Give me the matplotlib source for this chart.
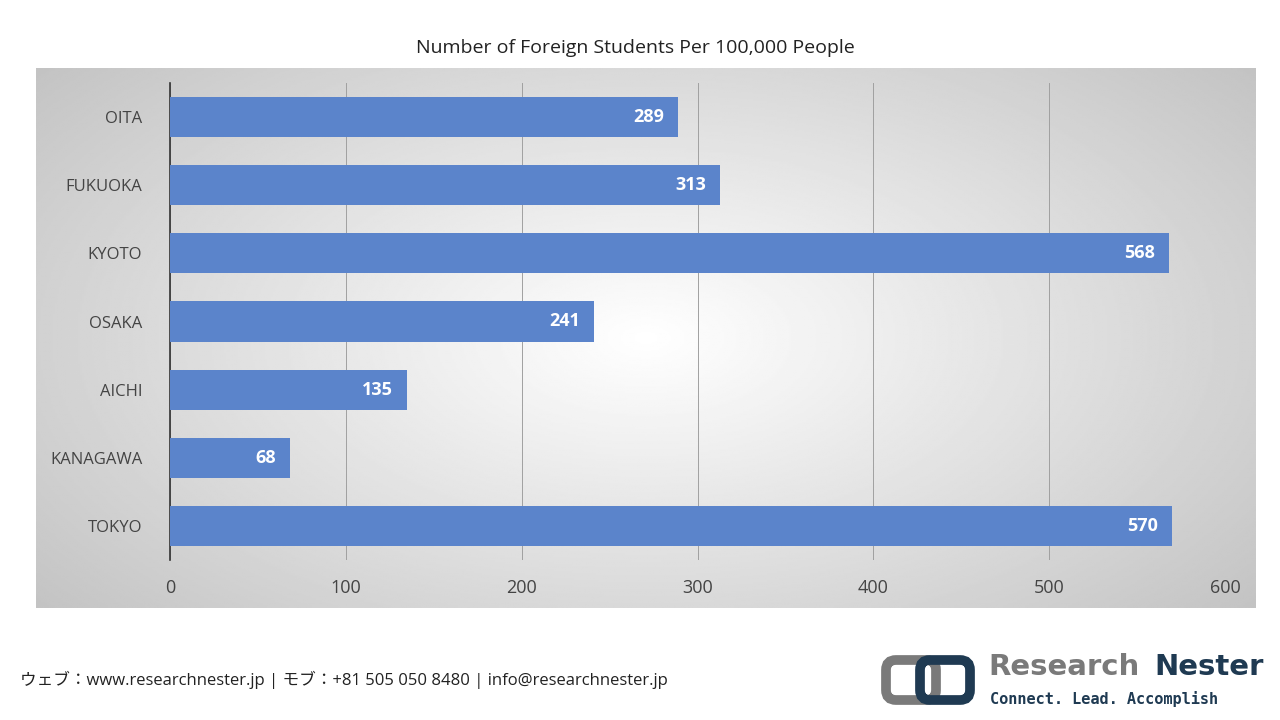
import numpy as np
import matplotlib.pyplot as plt
from matplotlib.patches import FancyBboxPatch

plt.rcParams['font.family'] = ['Open Sans', 'Noto Sans CJK JP', 'DejaVu Sans']

categories = ["TOKYO", "KANAGAWA", "AICHI", "OSAKA", "KYOTO", "FUKUOKA", "OITA"]
values = [570, 68, 135, 241, 568, 313, 289]
xticks = [0, 100, 200, 300, 400, 500, 600]

W, H = 1280, 720
fig = plt.figure(figsize=(12.8, 7.2), dpi=100)

bg = fig.add_axes([36/W, 1-608/H, (1256-36)/W, (608-68)/H])
yy, xx = np.mgrid[-1:1:300j, -1:1:600j]
r = np.sqrt((xx*0.9)**2 + (yy*0.75)**2)
g = 1.0 - 0.2*np.clip(r, 0, 1.4)
bg.imshow(g, cmap='gray', vmin=0, vmax=1, aspect='auto', extent=[0,1,0,1])
bg.set_axis_off()

ax = fig.add_axes([170/W, 1-560/H, (1225-170)/W, (560-83)/H])
ax.patch.set_alpha(0)
y = np.arange(len(categories))
ax.barh(y, values, height=0.59, color='#5b84cb', zorder=3)
for yi, v in zip(y, values):
    ax.text(v-8, yi, str(v), ha='right', va='center', color='white',
            fontsize=13, fontweight='bold', zorder=4)
ax.set_xlim(0, 600)
ax.set_ylim(-0.5, len(categories)-0.5)
ax.set_xticks(xticks)
ax.set_xticklabels([str(t) for t in xticks], fontsize=13, color='#444444')
ax.set_yticks(y)
ax.set_yticklabels(categories, fontsize=12, color='#444444')
ax.tick_params(length=0, pad=20, axis='y')
ax.tick_params(length=0, pad=14, axis='x')
ax.grid(axis='x', color='#a0a0a0', lw=0.7, zorder=0)
for k in ['top', 'right', 'bottom']:
    ax.spines[k].set_visible(False)
ax.spines['left'].set_color('#333333')
ax.spines['left'].set_linewidth(1.2)

fig.text(635/W, 1-48/H, "Number of Foreign Students Per 100,000 People",
         ha='center', va='center', fontsize=14, color='#222222')
fig.text(20/W, 1-680/H, "ウェブ：www.researchnester.jp | モブ：+81 505 050 8480 | info@researchnester.jp",
         ha='left', va='center', fontsize=12, color='#222222')

la = fig.add_axes([880/W, 1-708/H, 100/W, 56/H])
la.set_xlim(0, 100); la.set_ylim(0, 56); la.set_axis_off()
la.add_patch(FancyBboxPatch((6, 8), 50, 40, boxstyle="round,pad=0,rounding_size=10",
                            fill=False, ec='#7a7a7a', lw=7))
la.add_patch(FancyBboxPatch((40, 8), 50, 40, boxstyle="round,pad=0,rounding_size=10",
                            fill=False, ec='#1f3a52', lw=7))
fig.text(988/W, 1-667/H, "Research", fontsize=21, fontweight='bold', color='#7a7a7a',
         va='center', ha='left', family='DejaVu Sans')
fig.text(1264/W, 1-667/H, "Nester", fontsize=21, fontweight='bold', color='#1f3a52',
         va='center', ha='right', family='DejaVu Sans')
fig.text(990/W, 1-699/H, "Connect. Lead. Accomplish", fontsize=11, fontweight='bold',
         color='#1f3a52', va='center', ha='left', family='DejaVu Sans Mono')

fig.savefig('out.png', dpi=100)
